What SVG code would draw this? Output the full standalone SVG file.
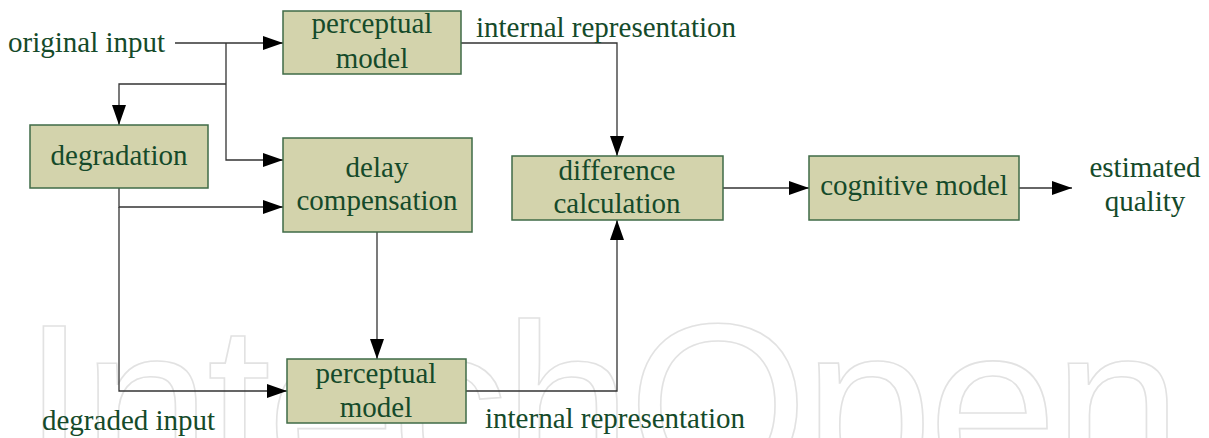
<svg xmlns="http://www.w3.org/2000/svg" width="1209" height="438" viewBox="0 0 1209 438">
<defs>
<style>
.box{fill:#d3d3ac;stroke:#3f6b47;stroke-width:1.5}
.t{font-family:"Liberation Serif","Times New Roman","DejaVu Serif",serif;font-size:29px;fill:#154a2a}
.c{text-anchor:middle}
.ln{fill:none;stroke:#333;stroke-width:1.3}
.wm{font-family:"Liberation Sans",Arial,sans-serif;font-size:232px;fill:none;stroke:#e2e2e2;stroke-width:1.6}
</style>
<marker id="ah" viewBox="0 0 20 14" refX="20" refY="7" markerWidth="20" markerHeight="14" markerUnits="userSpaceOnUse" orient="auto">
<path d="M0,0 L20,7 L0,14 Z" fill="#000"/>
</marker>
</defs>
<rect width="1209" height="438" fill="#fff"/>
<text class="wm" x="22" y="486" textLength="1160" lengthAdjust="spacing">IntechOpen</text>
<g id="connectors">
<path class="ln" d="M175,43 H283" marker-end="url(#ah)"/>
<path class="ln" d="M226,43 V160 H283" marker-end="url(#ah)"/>
<path class="ln" d="M226,84 H119 V125" marker-end="url(#ah)"/>
<path class="ln" d="M119,188 V207 H283" marker-end="url(#ah)"/>
<path class="ln" d="M119,207 V391 H287" marker-end="url(#ah)"/>
<path class="ln" d="M377,232 V359" marker-end="url(#ah)"/>
<path class="ln" d="M461,43 H617 V156" marker-end="url(#ah)"/>
<path class="ln" d="M466,391 H617 V220" marker-end="url(#ah)"/>
<path class="ln" d="M723,188 H809" marker-end="url(#ah)"/>
<path class="ln" d="M1019,188 H1072" marker-end="url(#ah)"/>
</g>
<g id="label-original"><text class="t" x="8" y="52">original input</text></g>
<g id="label-degraded"><text class="t" x="42" y="430">degraded input</text></g>
<g id="label-ir-top"><text class="t" x="476" y="37">internal representation</text></g>
<g id="label-ir-bottom"><text class="t" x="485" y="428">internal representation</text></g>
<g id="label-estimated"><text class="t c" x="1145" y="177">estimated</text><text class="t c" x="1145" y="211">quality</text></g>
<g id="perceptual-model-1"><rect class="box" x="283" y="11" width="178" height="63"/><text class="t c" x="372" y="33">perceptual</text><text class="t c" x="372" y="68">model</text></g>
<g id="degradation"><rect class="box" x="30" y="125" width="178" height="63"/><text class="t c" x="119" y="165">degradation</text></g>
<g id="delay-compensation"><rect class="box" x="283" y="138" width="189" height="94"/><text class="t c" x="377" y="177">delay</text><text class="t c" x="377" y="210">compensation</text></g>
<g id="difference-calculation"><rect class="box" x="512" y="156" width="211" height="64"/><text class="t c" x="617" y="180">difference</text><text class="t c" x="617" y="213">calculation</text></g>
<g id="cognitive-model"><rect class="box" x="809" y="156" width="210" height="64"/><text class="t c" x="914" y="195">cognitive model</text></g>
<g id="perceptual-model-2"><rect class="box" x="287" y="359" width="179" height="64"/><text class="t c" x="376" y="383">perceptual</text><text class="t c" x="376" y="417">model</text></g>
</svg>
